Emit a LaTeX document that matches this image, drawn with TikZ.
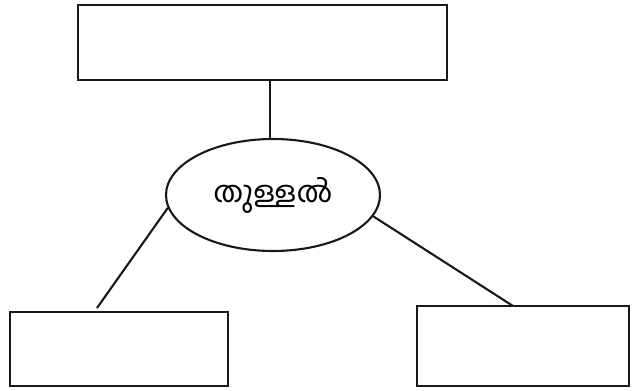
\documentclass[tikz,border=0pt]{standalone}
\usepackage{fontspec}
\newfontfamily\malfont[Script=Malayalam]{Hind Kochi}
\usetikzlibrary{calc, shapes.geometric}

\begin{document}
\begin{tikzpicture}[
        blank/.style={draw=black!90, line width=1.5pt, inner sep=0pt},
        link/.style={draw=black!90, line width=1.5pt}
    ]
        \useasboundingbox (0,0) rectangle (15.825,9.75);
        \node[blank, minimum width=9.225cm, minimum height=1.875cm] (tbox) at (6.5625,8.6875) {};
        \node[blank, ellipse, minimum width=5.35cm, minimum height=2.8cm] (thullal) at (6.825,4.875) {\malfont\fontsize{21}{25}\selectfont തുള്ളൽ};
        \node[blank, minimum width=5.45cm, minimum height=1.85cm] (lbox) at (2.975,1.025) {};
        \node[blank, minimum width=5.3cm, minimum height=2cm] (rbox) at (13.075,1.1) {};
        \coordinate (tjoin) at (6.75,7.75);
        \coordinate (lend) at (2.425,2.05);
        \coordinate (rend) at (12.825,2.1);

        \draw[link] (tjoin) -- (thullal.north -| tjoin);
        \draw[link] (thullal.187) -- (lend);
        \draw[link] (thullal.348) -- (rend);
    \end{tikzpicture}
\end{document}
